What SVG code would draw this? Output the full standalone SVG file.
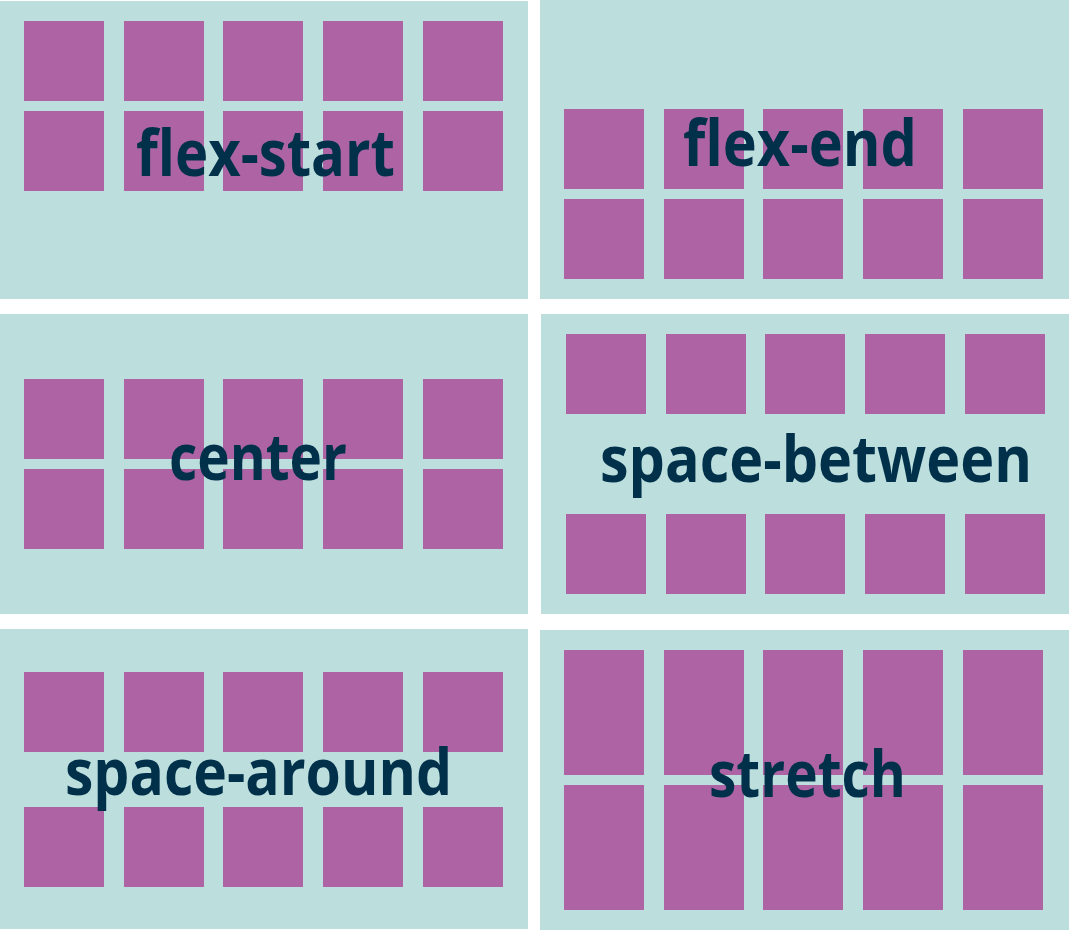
<svg xmlns="http://www.w3.org/2000/svg" width="1069" height="931" viewBox="0 0 1069 931">
<style>
.panel{fill:#bcdfde}
.sq{fill:#ae64a4}
.lbl{font-family:"Open Sans","Noto Sans","Liberation Sans",sans-serif;font-weight:bold;font-size:64px;fill:#00304a}
</style>
<defs>
<g id="row1">
<rect class="sq" x="0" y="0" width="80" height="80"/>
<rect class="sq" x="100" y="0" width="80" height="80"/>
<rect class="sq" x="199" y="0" width="80" height="80"/>
<rect class="sq" x="299" y="0" width="80" height="80"/>
<rect class="sq" x="399" y="0" width="80" height="80"/>
</g>
<g id="rowTall">
<rect class="sq" x="0" y="0" width="80" height="125"/>
<rect class="sq" x="100" y="0" width="80" height="125"/>
<rect class="sq" x="199" y="0" width="80" height="125"/>
<rect class="sq" x="299" y="0" width="80" height="125"/>
<rect class="sq" x="399" y="0" width="80" height="125"/>
</g>
</defs>
<rect width="1069" height="931" fill="#ffffff"/>
<g id="flex-start">
<rect class="panel" x="0" y="1" width="528" height="298"/>
<use href="#row1" x="24" y="21"/>
<use href="#row1" x="24" y="111"/>
<text class="lbl" x="136" y="176" textLength="259" lengthAdjust="spacingAndGlyphs">flex-start</text>
</g>
<g id="flex-end">
<rect class="panel" x="540" y="0" width="529" height="299"/>
<use href="#row1" x="564" y="109"/>
<use href="#row1" x="564" y="199"/>
<text class="lbl" x="683" y="166" textLength="234" lengthAdjust="spacingAndGlyphs">flex-end</text>
</g>
<g id="center">
<rect class="panel" x="0" y="314" width="528" height="300"/>
<use href="#row1" x="24" y="379"/>
<use href="#row1" x="24" y="469"/>
<text class="lbl" x="169" y="480" textLength="178" lengthAdjust="spacingAndGlyphs">center</text>
</g>
<g id="space-between">
<rect class="panel" x="541" y="314" width="528" height="300"/>
<use href="#row1" x="566" y="334"/>
<use href="#row1" x="566" y="514"/>
<text class="lbl" x="600" y="482" textLength="432" lengthAdjust="spacingAndGlyphs">space-between</text>
</g>
<g id="space-around">
<rect class="panel" x="0" y="629" width="528" height="300"/>
<use href="#row1" x="24" y="672"/>
<use href="#row1" x="24" y="807"/>
<text class="lbl" x="65" y="795" textLength="387" lengthAdjust="spacingAndGlyphs">space-around</text>
</g>
<g id="stretch">
<rect class="panel" x="540" y="630" width="529" height="300"/>
<use href="#rowTall" x="564" y="650"/>
<use href="#rowTall" x="564" y="785"/>
<text class="lbl" x="709" y="797" textLength="197" lengthAdjust="spacingAndGlyphs">stretch</text>
</g>
<g id="connectors"/>
</svg>
